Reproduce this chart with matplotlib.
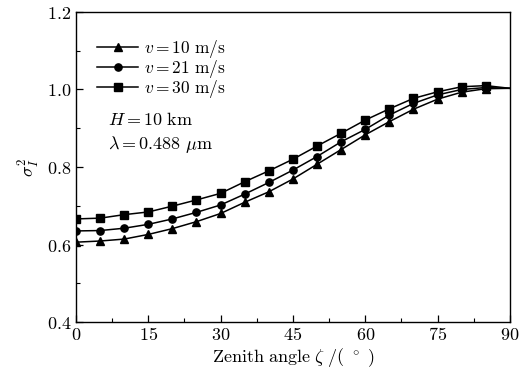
import matplotlib
matplotlib.use("Agg")
import matplotlib.pyplot as plt
from matplotlib.ticker import MultipleLocator, FuncFormatter

plt.rcParams['mathtext.fontset'] = 'cm'
plt.rcParams['font.family'] = 'serif'
plt.rcParams['font.serif'] = ['DejaVu Serif']

zenith = [0, 5, 10, 15, 20, 25, 30, 35, 40, 45, 50, 55, 60, 65, 70, 75, 80, 85, 90]
v10 = [0.606, 0.609, 0.614, 0.626, 0.641, 0.659, 0.680, 0.709, 0.736, 0.769, 0.807, 0.845,
       0.883, 0.917, 0.949, 0.975, 0.993, 1.002, 1.003]
v21 = [0.635, 0.636, 0.642, 0.652, 0.666, 0.683, 0.702, 0.730, 0.760, 0.792, 0.827, 0.865,
       0.897, 0.934, 0.964, 0.986, 1.000, 1.005, 1.003]
v30 = [0.666, 0.668, 0.677, 0.684, 0.699, 0.715, 0.732, 0.762, 0.790, 0.820, 0.854, 0.887,
       0.921, 0.950, 0.977, 0.994, 1.007, 1.010, 1.003]
labels = [r'$v{=}10\ \mathrm{m/s}$', r'$v{=}21\ \mathrm{m/s}$', r'$v{=}30\ \mathrm{m/s}$']
markers = ['^', 'o', 's']
msizes = [5.8, 5.2, 5.3]

fig = plt.figure(figsize=(5.24, 3.74), dpi=100)
ax = fig.add_axes([0.145, 0.139, 0.828, 0.829])

for y, lab, m, ms in zip([v10, v21, v30], labels, markers, msizes):
    ax.plot(zenith, y, color='black', lw=1.1, marker=m, markersize=ms,
            markevery=slice(0, len(zenith) - 1), label=lab)

ax.set_xlim(0, 90)
ax.set_ylim(0.4, 1.2)
ax.xaxis.set_major_locator(MultipleLocator(15))
ax.xaxis.set_minor_locator(MultipleLocator(7.5))
ax.yaxis.set_major_locator(MultipleLocator(0.2))
ax.yaxis.set_minor_locator(MultipleLocator(0.1))
ax.xaxis.set_major_formatter(FuncFormatter(lambda v, p: r'$%d$' % round(v)))
ax.yaxis.set_major_formatter(FuncFormatter(lambda v, p: r'$%.1f$' % v))
ax.tick_params(which='both', direction='in', top=False, right=False, labelsize=13, colors='black')
ax.tick_params(which='major', length=5, width=0.9)
ax.tick_params(which='minor', length=3, width=0.8)
ax.tick_params(axis='x', pad=3)
for s in ax.spines.values():
    s.set_linewidth(1.0)

ax.set_xlabel(r'$\mathrm{Zenith\ angle}\ \zeta\ /(\ ^\circ\ )$', fontsize=13, labelpad=1)
ax.set_ylabel(r'$\sigma_I^2$', fontsize=13, labelpad=3)

leg = ax.legend(loc='upper left', bbox_to_anchor=(0.02, 0.955), frameon=False, fontsize=12.5,
                handlelength=2.4, handletextpad=0.3, labelspacing=-0.12, borderaxespad=0.3)

ax.text(0.074, 0.652, r'$H{=}10\ \mathrm{km}$', transform=ax.transAxes, fontsize=13, va='center')
ax.text(0.074, 0.571, r'$\lambda{=}0.488\ \mathrm{\mu m}$', transform=ax.transAxes, fontsize=13, va='center')

fig.savefig('out.png', dpi=100)
